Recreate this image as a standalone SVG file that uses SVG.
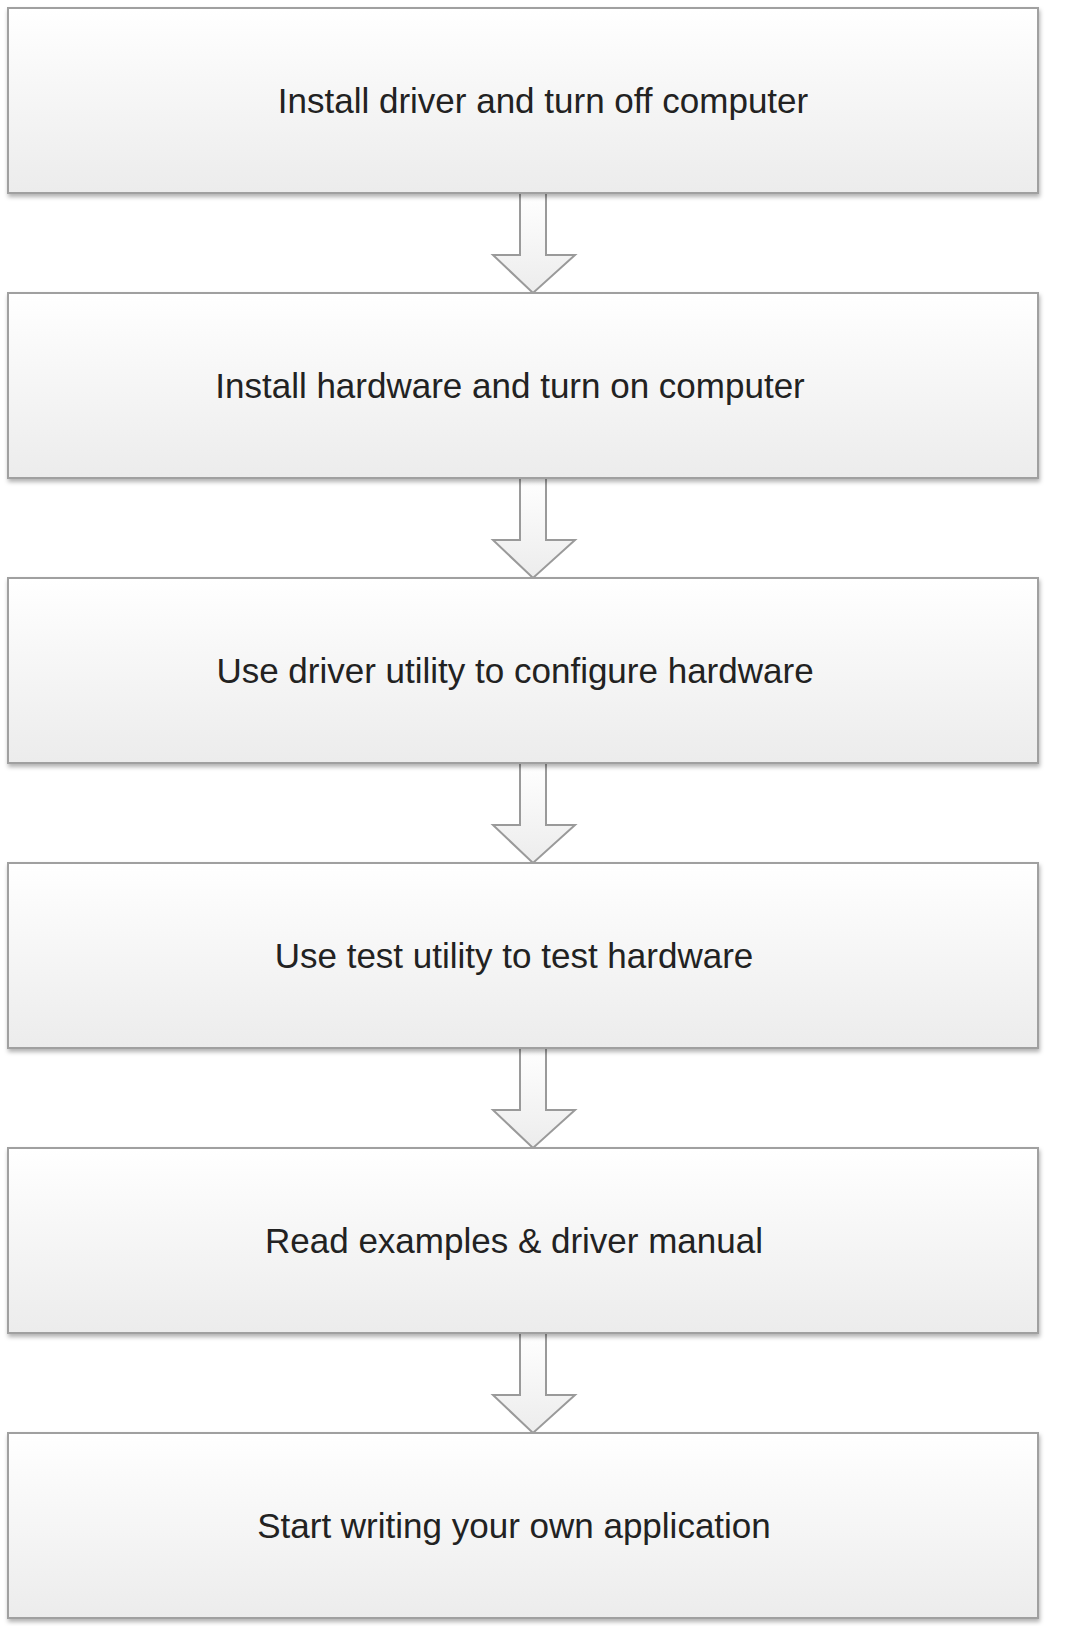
<svg xmlns="http://www.w3.org/2000/svg" width="1067" height="1626" viewBox="0 0 1067 1626">
<defs>
<linearGradient id="g" x1="0" y1="0" x2="0" y2="1"><stop offset="0" stop-color="#ffffff"/><stop offset="1" stop-color="#ececec"/></linearGradient>
<filter id="sh" x="-5%" y="-5%" width="110%" height="120%"><feDropShadow dx="1" dy="3" stdDeviation="2" flood-color="#000" flood-opacity="0.3"/></filter>
<path id="arr" d="M520,0 V62 H493 L533,100 L575,62 H546 V0" fill="url(#g)" stroke="#9a9a9a" stroke-width="2"/>
</defs>
<style>
.b{fill:url(#g);stroke:#a0a0a0;stroke-width:2;filter:url(#sh)}
text{font-family:"Liberation Sans",Arial,sans-serif;font-size:35px;fill:#222;text-anchor:middle;dominant-baseline:central}
</style>
<rect width="1067" height="1626" fill="#fff"/>
<g id="connectors">
<use href="#arr" y="193"/><use href="#arr" y="478"/><use href="#arr" y="763"/><use href="#arr" y="1048"/><use href="#arr" y="1333"/>
</g>
<g id="n1"><rect class="b" x="8" y="8" width="1030" height="185"/><text x="543" y="100">Install driver and turn off computer</text></g>
<g id="n2"><rect class="b" x="8" y="293" width="1030" height="185"/><text x="510" y="385">Install hardware and turn on computer</text></g>
<g id="n3"><rect class="b" x="8" y="578" width="1030" height="185"/><text x="515" y="670">Use driver utility to configure hardware</text></g>
<g id="n4"><rect class="b" x="8" y="863" width="1030" height="185"/><text x="514" y="955">Use test utility to test hardware</text></g>
<g id="n5"><rect class="b" x="8" y="1148" width="1030" height="185"/><text x="514" y="1240">Read examples &amp; driver manual</text></g>
<g id="n6"><rect class="b" x="8" y="1433" width="1030" height="185"/><text x="514" y="1525">Start writing your own application</text></g>
</svg>
